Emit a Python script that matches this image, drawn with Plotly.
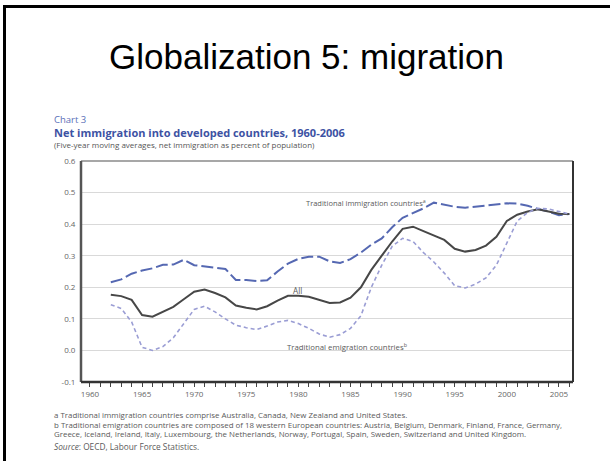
import plotly.graph_objects as go

# Five-year moving averages of net immigration, % of population
years = list(range(1962, 2007))

immigration_countries = [
    0.216, 0.225, 0.243, 0.253, 0.260, 0.271, 0.272, 0.287, 0.270, 0.266,
    0.261, 0.258, 0.223, 0.223, 0.220, 0.222, 0.250, 0.275, 0.290, 0.297,
    0.297, 0.282, 0.277, 0.289, 0.310, 0.335, 0.355, 0.390, 0.420, 0.435,
    0.450, 0.468, 0.462, 0.455, 0.452, 0.456, 0.460, 0.463, 0.466, 0.465,
    0.458, 0.448, 0.440, 0.428, 0.432,
]

all_countries = [
    0.176, 0.172, 0.160, 0.112, 0.107, 0.122, 0.138, 0.162, 0.186, 0.193,
    0.182, 0.168, 0.142, 0.135, 0.130, 0.140, 0.158, 0.173, 0.173, 0.170,
    0.160, 0.150, 0.152, 0.167, 0.200, 0.255, 0.300, 0.345, 0.385, 0.392,
    0.378, 0.365, 0.350, 0.322, 0.313, 0.318, 0.332, 0.360, 0.410, 0.430,
    0.440, 0.447, 0.440, 0.433, 0.432,
]

emigration_countries = [
    0.145, 0.133, 0.090, 0.010, 0.000, 0.012, 0.040, 0.085, 0.130, 0.140,
    0.122, 0.100, 0.080, 0.072, 0.066, 0.077, 0.090, 0.095, 0.085, 0.070,
    0.052, 0.042, 0.050, 0.070, 0.110, 0.200, 0.270, 0.330, 0.355, 0.345,
    0.310, 0.280, 0.245, 0.205, 0.198, 0.210, 0.230, 0.270, 0.340, 0.410,
    0.437, 0.450, 0.448, 0.440, 0.432,
]

y_ticks = [-0.1, 0.0, 0.1, 0.2, 0.3, 0.4, 0.5, 0.6]
y_tick_labels = ["-0.1", "0.0", "0.1", "0.2", "0.3", "0.4", "0.5", "0.6"]
x_ticks = [1960, 1965, 1970, 1975, 1980, 1985, 1990, 1995, 2000, 2005]
x_tick_labels = [str(y) for y in x_ticks]

W, H = 610, 461
L, R, T, B = 81, 573, 161, 382  # plot-area edges in page pixels


def px(x):
    return (x - L) / (R - L)


def py(y):
    return (B - y) / (B - T)


GRAY = "#5a5a5a"
BLUE_TXT = "#3d52a3"
FONT = "Open Sans, DejaVu Sans, sans-serif"

fig = go.Figure()
fig.add_trace(go.Scatter(
    x=years, y=immigration_countries, mode="lines",
    line=dict(color="#5568b2", width=2, dash="12px,4px"),
    name="Traditional immigration countries",
))
fig.add_trace(go.Scatter(
    x=years, y=all_countries, mode="lines",
    line=dict(color="#474747", width=2),
    name="All",
))
fig.add_trace(go.Scatter(
    x=years, y=emigration_countries, mode="lines",
    line=dict(color="#9a9dd4", width=1.6, dash="4px,3px"),
    name="Traditional emigration countries",
))

fig.update_layout(
    width=W, height=H,
    margin=dict(l=L, r=W - R, t=T, b=H - B),
    paper_bgcolor="white", plot_bgcolor="white",
    showlegend=False,
    font=dict(family=FONT, color=GRAY),
    xaxis=dict(
        range=[1959.14, 2006.35],
        tickvals=x_ticks, ticktext=x_tick_labels,
        ticks="outside", ticklen=4, tickwidth=1, tickcolor="#444",
        minor=dict(tick0=1960, dtick=1, ticks="outside", ticklen=4,
                   tickwidth=1, tickcolor="#444", showgrid=False),
        tickfont=dict(size=8, color="#666"),
        showgrid=False, zeroline=False, showline=False,
    ),
    yaxis=dict(
        range=[-0.1, 0.6],
        tickvals=y_ticks, ticktext=y_tick_labels,
        ticks="outside", ticklen=3, tickcolor="rgba(0,0,0,0)",
        tickfont=dict(size=8, color="#666"),
        showgrid=True, gridcolor="#d9d9d9", gridwidth=1,
        zeroline=False, showline=False,
    ),
)

shapes = [
    # chart frame
    dict(type="line", xref="paper", yref="paper", x0=0, x1=1, y0=1, y1=1,
         line=dict(color="#8a8a8a", width=1.5)),
    dict(type="line", xref="paper", yref="paper", x0=1, x1=1, y0=0, y1=1,
         line=dict(color="#333", width=2)),
    dict(type="line", xref="paper", yref="paper", x0=0, x1=0, y0=0, y1=1,
         line=dict(color="#555", width=2.5)),
    dict(type="line", xref="paper", yref="paper", x0=0, x1=1, y0=0, y1=0,
         line=dict(color="#333", width=2.5)),
    # slide border (top and left)
    dict(type="line", xref="paper", yref="paper", x0=px(3), x1=px(611),
         y0=py(6.5), y1=py(6.5), line=dict(color="black", width=3)),
    dict(type="line", xref="paper", yref="paper", x0=px(4.5), x1=px(4.5),
         y0=py(5), y1=py(462), line=dict(color="black", width=3)),
]
fig.update_layout(shapes=shapes)


def note(text, x, y, size, color=GRAY, anchor="left", family=FONT):
    fig.add_annotation(
        text=text, xref="paper", yref="paper", x=px(x), y=py(y),
        xanchor=anchor, yanchor="middle", showarrow=False,
        font=dict(size=size, color=color, family=family),
    )


note("Globalization 5: migration", 306, 57, 35, color="black",
     anchor="center", family="Liberation Sans, Arial, sans-serif")
note("Chart 3", 52, 119.5, 9.5, color="#5a6fb8")
note("<b>Net immigration into developed countries, 1960-2006</b>", 52, 132,
     11, color=BLUE_TXT)
note("(Five-year moving averages, net immigration as percent of population)",
     52, 144, 8, color="#555")

note("Traditional immigration countries<sup>a</sup>", 304, 202, 7.5)
note("All", 291, 290, 8.2)
note("Traditional emigration countries<sup>b</sup>", 285, 346, 7.8)

note("a Traditional immigration countries comprise Australia, Canada, "
     "New Zealand and United States.", 52, 415, 7.9)
note("b Traditional emigration countries are composed of 18 western European "
     "countries: Austria, Belgium, Denmark, Finland, France, Germany,",
     52, 424.5, 7.9)
note("Greece, Iceland, Ireland, Italy, Luxembourg, the Netherlands, Norway, "
     "Portugal, Spain, Sweden, Switzerland and United Kingdom.", 52, 434, 7.9)
note("<i>Source</i>: OECD, Labour Force Statistics.", 52, 446, 8.3)

fig.write_html("out.html")
